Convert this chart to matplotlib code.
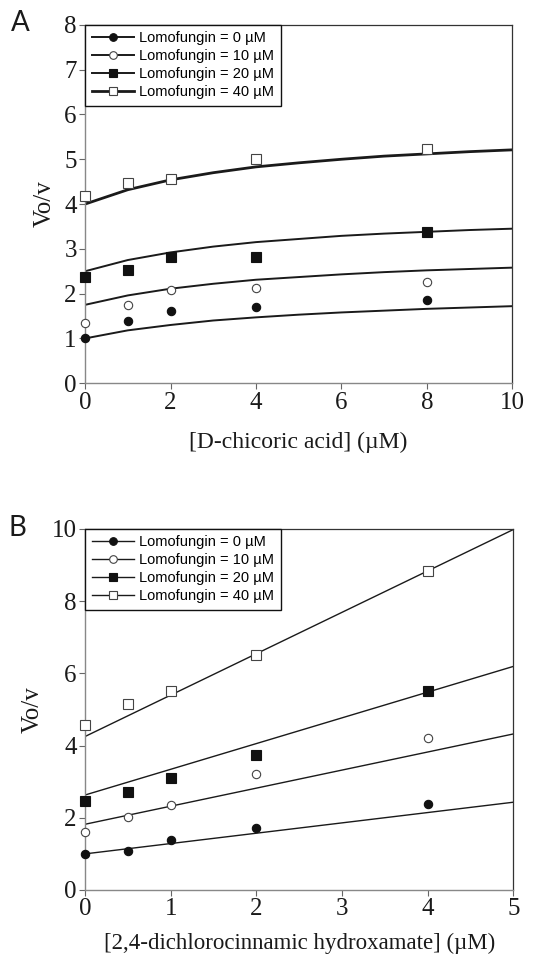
import matplotlib
matplotlib.use("Agg")
import matplotlib.pyplot as plt
from matplotlib.lines import Line2D

# panel A: D-chicoric acid
xa = [0, 1, 2, 4, 8]
a_0 = [1.0, 1.39, 1.61, 1.70, 1.85]
a_10 = [1.34, 1.74, 2.07, 2.12, 2.25]
a_20 = [2.38, 2.52, 2.81, 2.81, 3.37]
a_40 = [4.19, 4.48, 4.55, 5.01, 5.22]

# fitted curves
xa_fit = [0, 1, 2, 3, 4, 5, 6, 7, 8, 9, 10]
a_fit_0 = [1.0, 1.18, 1.30, 1.40, 1.47, 1.53, 1.58, 1.62, 1.66, 1.69, 1.72]
a_fit_10 = [1.75, 1.96, 2.11, 2.22, 2.31, 2.37, 2.43, 2.48, 2.52, 2.55, 2.58]
a_fit_20 = [2.50, 2.75, 2.92, 3.05, 3.15, 3.22, 3.29, 3.34, 3.38, 3.42, 3.45]
a_fit_40 = [4.00, 4.32, 4.54, 4.70, 4.83, 4.92, 5.00, 5.07, 5.12, 5.17, 5.21]

# panel B: 2,4-dichlorocinnamic hydroxamate
xb = [0, 0.5, 1, 2, 4]
b_0 = [1.0, 1.08, 1.39, 1.71, 2.38]
b_10 = [1.61, 2.03, 2.34, 3.22, 4.21]
b_20 = [2.47, 2.71, 3.10, 3.74, 5.50]
b_40 = [4.58, 5.16, 5.52, 6.52, 8.83]

xb_fit = [0, 5]
b_fit_0 = [1.0, 2.43]
b_fit_10 = [1.82, 4.32]
b_fit_20 = [2.63, 6.19]
b_fit_40 = [4.25, 9.98]

labels = ["Lomofungin = 0 µM", "Lomofungin = 10 µM",
          "Lomofungin = 20 µM", "Lomofungin = 40 µM"]
markers = [("o", "#111111"), ("o", "white"), ("s", "#111111"), ("s", "white")]

ink = "#1a1a1a"
serif = "Liberation Serif"

fig = plt.figure(figsize=(5.49, 9.58), dpi=100)
axA = fig.add_axes([0.155, 0.600, 0.778, 0.374])
axB = fig.add_axes([0.155, 0.071, 0.780, 0.377])


def draw(ax, x, pts, xfit, fits, widths, sizes):
    handles = []
    for y, yf, (m, fc), lw, ms in zip(pts, fits, markers, widths, sizes):
        ax.plot(xfit, yf, color=ink, lw=lw, zorder=2)
        ec = "#111111" if fc != "white" else "#444444"
        ax.plot(x, y, ls="none", marker=m, ms=ms, mfc=fc, mec=ec,
                mew=0.8, zorder=3, clip_on=False)
        handles.append(Line2D([], [], color=ink, lw=lw, marker=m, ms=ms - 0.5,
                              mfc=fc, mec=ec, mew=0.8))
    leg = ax.legend(handles, labels, loc="upper left", borderaxespad=0,
                    handlelength=2.9, handletextpad=0.35, labelspacing=0.27,
                    borderpad=0.45, fancybox=False, framealpha=1,
                    edgecolor="#111111",
                    prop={"family": "Liberation Sans", "size": 10.5})
    leg.get_frame().set_linewidth(1.0)
    for s in ["left", "bottom"]:
        ax.spines[s].set_color("#888888")
        ax.spines[s].set_linewidth(1.0)
    for s in ["top", "right"]:
        ax.spines[s].set_color("#333333")
        ax.spines[s].set_linewidth(0.9)
    ax.tick_params(direction="out", length=4, width=0.8, color="#666666",
                   labelsize=18, labelcolor=ink, pad=2)
    ax.set_ylabel("Vo/v", family=serif, fontsize=18, color=ink, labelpad=6)


draw(axA, xa, [a_0, a_10, a_20, a_40], xa_fit,
     [a_fit_0, a_fit_10, a_fit_20, a_fit_40], [1.4, 1.4, 1.4, 2.0],
     [6, 6, 6.5, 6.5])
axA.set_xlim(0, 10)
axA.set_ylim(0, 8)
axA.set_xticks(range(0, 11, 2))
axA.set_yticks(range(0, 9))
for t in axA.get_xticklabels() + axA.get_yticklabels():
    t.set_family(serif)
axA.set_xlabel("[D-chicoric acid] (µM)", family=serif, fontsize=17,
               color=ink, labelpad=13)

draw(axB, xb, [b_0, b_10, b_20, b_40], xb_fit,
     [b_fit_0, b_fit_10, b_fit_20, b_fit_40], [1.0, 1.0, 1.0, 1.0],
     [6, 6, 6.5, 6.5])
axB.set_xlim(0, 5)
axB.set_ylim(0, 10)
axB.set_xticks(range(0, 6))
axB.set_yticks(range(0, 11, 2))
for t in axB.get_xticklabels() + axB.get_yticklabels():
    t.set_family(serif)
axB.set_xlabel("[2,4-dichlorocinnamic hydroxamate] (µM)", family=serif,
               fontsize=16.5, color=ink, labelpad=9)

fig.text(0.037, 0.976, "A", family="Lato", fontsize=20, color=ink,
         ha="center", va="center")
fig.text(0.031, 0.449, "B", family="Lato", fontsize=20, color=ink,
         ha="center", va="center")

fig.savefig("out.png", dpi=100)
